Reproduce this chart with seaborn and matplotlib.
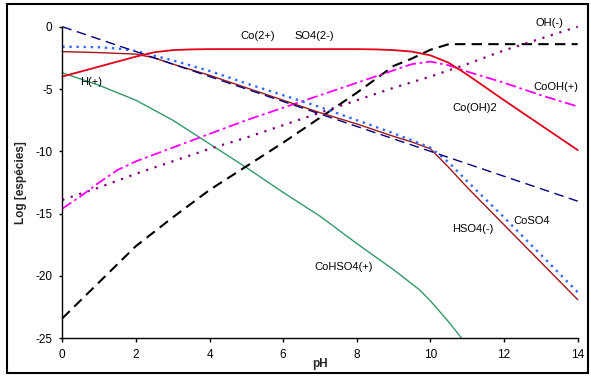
import matplotlib
matplotlib.use("Agg")
import matplotlib.pyplot as plt
import seaborn as sns
from matplotlib.patches import Rectangle

# ---- data ----
ph_co2 = [0, 1, 2, 2.5, 3, 3.5, 4, 5, 6, 7, 8, 8.5, 9, 9.5, 10, 10.5, 11, 12, 13, 14]
co2 = [-4.0, -3.2, -2.4, -2.05, -1.88, -1.82, -1.8, -1.8, -1.8, -1.8, -1.8, -1.82, -1.88, -2.0, -2.3, -2.9, -3.85, -5.9, -7.9, -9.9]

ph_hso4 = [0, 1, 2, 2.5, 3, 4, 5, 6, 7, 8, 9, 9.5, 10, 10.5, 11, 12, 13, 14]
hso4 = [-2.0, -2.08, -2.2, -2.5, -3.0, -3.9, -4.9, -5.9, -6.9, -7.8, -8.8, -9.25, -9.8, -11.3, -12.9, -15.9, -18.9, -21.9]

ph_h = [0, 1, 2, 3, 4, 5, 6, 7, 8, 9, 10, 11, 12, 13, 14]
h_ion = [0.0, -1.0, -2.0, -3.0, -4.0, -5.0, -6.0, -7.0, -8.0, -9.0, -10.0, -11.0, -12.0, -13.0, -14.0]

ph_coso4 = [0, 1, 1.5, 2, 3, 4, 5, 6, 7, 8, 9, 10, 10.5, 11, 12, 13, 14]
coso4 = [-1.6, -1.65, -1.75, -1.95, -2.7, -3.55, -4.55, -5.5, -6.45, -7.5, -8.55, -9.7, -10.9, -12.4, -15.3, -18.3, -21.3]

ph_cooh = [0, 0.5, 1, 1.5, 2, 3, 4, 5, 6, 7, 8, 9, 9.5, 10, 10.5, 11, 12, 13, 14]
cooh = [-14.6, -13.6, -12.5, -11.5, -10.8, -9.7, -8.6, -7.5, -6.5, -5.5, -4.5, -3.5, -3.0, -2.8, -3.1, -3.6, -4.5, -5.5, -6.4]

ph_oh = [0, 1, 2, 3, 4, 5, 6, 7, 8, 9, 10, 11, 12, 13, 14]
oh_ion = [-13.9, -12.9, -11.8, -10.8, -9.8, -8.9, -7.9, -6.9, -5.9, -4.9, -4.0, -3.0, -1.9, -0.95, 0.0]

ph_cooh2 = [0, 1, 2, 3, 4, 5, 6, 7, 8, 9, 9.5, 10, 10.5, 11, 12, 13, 14]
cooh2 = [-23.4, -20.5, -17.6, -15.3, -13.1, -11.2, -9.3, -7.3, -5.3, -3.15, -2.55, -1.85, -1.4, -1.4, -1.4, -1.4, -1.4]

ph_cohso4 = [0, 1, 2, 3, 4, 5, 6, 7, 8, 9, 9.7, 10, 10.5, 10.85]
cohso4 = [-3.7, -4.7, -5.9, -7.5, -9.4, -11.3, -13.3, -15.2, -17.4, -19.5, -21.1, -22.0, -23.7, -25.0]

labels = ["Co(2+)", "SO4(2-)", "H(+)", "OH(-)", "CoOH(+)", "Co(OH)2", "HSO4(-)", "CoSO4", "CoHSO4(+)"]
label_x = [5.3, 6.84, 0.79, 13.22, 13.4, 11.19, 11.16, 12.75, 7.65]
label_y = [-0.72, -0.72, -4.4, 0.32, -4.85, -6.53, -16.2, -15.6, -19.25]

xticks = [0, 2, 4, 6, 8, 10, 12, 14]
yticks = [0, -5, -10, -15, -20, -25]

# ---- style ----
sns.set_style("white")
plt.rcParams['font.family'] = ['Liberation Sans', 'DejaVu Sans']
plt.rcParams['axes.unicode_minus'] = False

fig = plt.figure(figsize=(5.91, 3.76), dpi=100)
ax = fig.add_axes([62.3 / 591, 37.7 / 376, 515.4 / 591, 311.6 / 376])

def draw(x, y, color, ls, lw):
    sns.lineplot(x=x, y=y, ax=ax, color=color, linestyle=ls, linewidth=lw,
                 estimator=None, sort=False)

draw(ph_cohso4, cohso4, "#339966", "-", 1.0)
draw(ph_cooh2, cooh2, "#000000", (0, (5, 3)), 1.5)
draw(ph_oh, oh_ion, "#800080", (0, (1, 3)), 1.6)
draw(ph_cooh, cooh, "#ff00ff", (0, (6, 2, 1.5, 2)), 1.3)
draw(ph_hso4, hso4, "#a01818", "-", 1.0)
draw(ph_coso4, coso4, "#3366ff", (0, (1, 2)), 1.7)
draw(ph_h, h_ion, "#000080", (0, (7, 4)), 1.0)
draw(ph_co2, co2, "#e3001b", "-", 1.3)

for t, x, y in zip(labels, label_x, label_y):
    ax.text(x, y, t, fontsize=8, ha="center", va="center", color="black", clip_on=False)

ax.set_xlim(0, 14)
ax.set_ylim(-25, 0)
ax.set_xticks(xticks)
ax.set_yticks(yticks)
ax.set_xticklabels([str(v) for v in xticks])
ax.set_yticklabels([str(v) for v in yticks])
ax.tick_params(axis="both", labelsize=8.5, colors="black", direction="out")
ax.tick_params(axis="y", length=2, width=1, pad=5, left=True)
ax.tick_params(axis="x", length=3, width=1, pad=5, bottom=True)

for s in ["top", "right"]:
    ax.spines[s].set_visible(False)
for s in ["left", "bottom"]:
    ax.spines[s].set_color("black")
    ax.spines[s].set_linewidth(1.0)

ax.set_xlabel("pH", fontsize=8.5, fontweight="bold")
ax.xaxis.set_label_coords(0.499, -0.0825)
ax.xaxis.label.set_va("center")
ax.set_ylabel("Log [espécies]", fontsize=8.5, fontweight="bold")
ax.yaxis.set_label_coords(-0.080, 0.5)
ax.yaxis.label.set_va("center")

for line in ax.get_lines():
    line.set_clip_on(False)

fig.patches.append(Rectangle((6.5 / 591, 3 / 376), 581.5 / 591, 369 / 376,
                             transform=fig.transFigure, fill=False,
                             edgecolor="black", linewidth=1.5))

fig.savefig("out.png", dpi=100)
